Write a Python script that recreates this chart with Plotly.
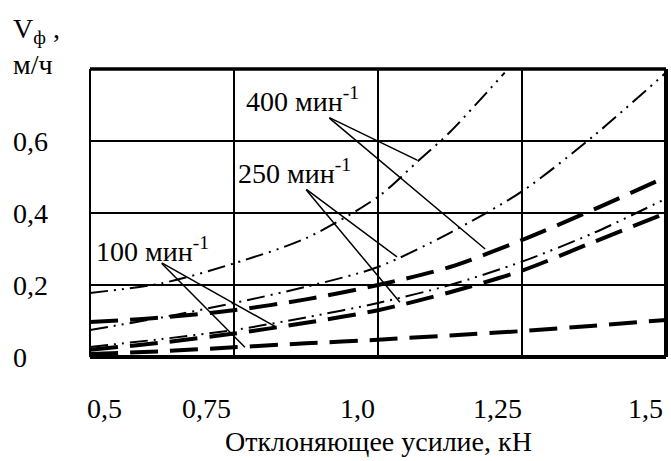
import plotly.graph_objects as go

# ---- data ----
force = [0.5, 0.625, 0.75, 0.875, 1.0, 1.125, 1.25, 1.375, 1.5]

# 400 min^-1
v400_a_x = [0.5, 0.625, 0.75, 0.875, 1.0, 1.07, 1.125, 1.22]
v400_a = [0.178, 0.205, 0.26, 0.33, 0.445, 0.545, 0.625, 0.79]
v400_b = [0.097, 0.11, 0.13, 0.16, 0.20, 0.25, 0.325, 0.41, 0.50]
# 250 min^-1
v250_a = [0.075, 0.11, 0.15, 0.195, 0.25, 0.345, 0.46, 0.615, 0.79]
v250_b = [0.028, 0.05, 0.075, 0.11, 0.15, 0.20, 0.265, 0.345, 0.44]
# 100 min^-1
v100_a = [0.02, 0.04, 0.065, 0.095, 0.13, 0.18, 0.24, 0.32, 0.40]
v100_b = [0.008, 0.016, 0.027, 0.038, 0.048, 0.06, 0.072, 0.087, 0.103]

x_tick_labels = ["0,5", "0,75", "1,0", "1,25", "1,5"]
y_tick_labels = ["0", "0,2", "0,4", "0,6"]
y_tick_vals = [0, 0.2, 0.4, 0.6]
series_labels = ["400 мин<sup>-1</sup>", "250 мин<sup>-1</sup>", "100 мин<sup>-1</sup>"]

FONT = "Liberation Serif"
DDOT = "18px,6px,2px,6px,2px,6px"
LDASH = "28px,12px"

fig = go.Figure()

def add(x, y, dash, w):
    fig.add_trace(go.Scatter(x=x, y=y, mode="lines", line=dict(color="black", width=w, dash=dash, shape="spline", smoothing=0.8),
                             showlegend=False, hoverinfo="skip"))

add(v400_a_x, v400_a, DDOT, 2)
add(force, v400_b, LDASH, 4)
add(force, v250_a, DDOT, 2)
add(force, v250_b, DDOT, 2)
add(force, v100_a, LDASH, 4)
add(force, v100_b, LDASH, 4)

# leader lines: label anchor -> points on curves
leaders = [
    ((0.913, 0.667), [(1.068, 0.547), (1.186, 0.300)]),
    ((0.873, 0.469), [(1.033, 0.278), (1.038, 0.152)]),
    ((0.622, 0.264), [(0.821, 0.085), (0.769, 0.027)]),
]
for (sx, sy), targets in leaders:
    for tx, ty in targets:
        fig.add_annotation(x=tx, y=ty, ax=sx, ay=sy, xref="x", yref="y", axref="x", ayref="y",
                           text="", showarrow=True, arrowhead=0, arrowwidth=1.5, arrowcolor="black")

label_pos = [(0.769, 0.715), (0.755, 0.515), (0.509, 0.300)]
for (lx, ly), txt in zip(label_pos, series_labels):
    fig.add_annotation(x=lx, y=ly, xref="x", yref="y", text=txt, showarrow=False,
                       xanchor="left", yanchor="middle", borderpad=0,
                       font=dict(family=FONT, size=28, color="black"))

# tick labels
x_label_paper = [0.025, 0.203, 0.464, 0.708, 0.964]
for px, t in zip(x_label_paper, x_tick_labels):
    fig.add_annotation(x=px, y=-0.18, xref="paper", yref="paper", text=t, showarrow=False,
                       xanchor="center", yanchor="middle", font=dict(family=FONT, size=28, color="black"))
for v, t in zip(y_tick_vals, y_tick_labels):
    fig.add_annotation(x=-0.137, y=v, xref="paper", yref="y", text=t, showarrow=False,
                       xanchor="left", yanchor="middle", font=dict(family=FONT, size=28, color="black"))

fig.add_annotation(x=0.5, y=-0.295, xref="paper", yref="paper", text="Отклоняющее усилие, кН", showarrow=False,
                   xanchor="center", yanchor="middle", font=dict(family=FONT, size=28, color="black"))
fig.add_annotation(x=-0.137, y=1.20, xref="paper", yref="paper", text="V<sub>ф</sub> ,<br>м/ч", showarrow=False,
                   xanchor="left", yanchor="top", align="left", font=dict(family=FONT, size=28, color="black"))

# frame
fig.add_shape(type="line", xref="paper", yref="paper", x0=0, x1=0, y0=0, y1=1, line=dict(color="black", width=2))
fig.add_shape(type="line", xref="paper", yref="paper", x0=0, x1=1, y0=1, y1=1, line=dict(color="black", width=3.5))
fig.add_shape(type="line", xref="paper", yref="paper", x0=1, x1=1, y0=0, y1=1, line=dict(color="black", width=4))
fig.add_shape(type="line", xref="paper", yref="paper", x0=0, x1=1, y0=0, y1=0, line=dict(color="black", width=4))

fig.update_xaxes(range=[0.5, 1.5], tickvals=[0.75, 1.0, 1.25], showticklabels=False, ticks="",
                 showgrid=True, gridcolor="black", gridwidth=1.5, zeroline=False, showline=False)
fig.update_yaxes(range=[0, 0.8], tickvals=[0.2, 0.4, 0.6], showticklabels=False, ticks="",
                 showgrid=True, gridcolor="black", gridwidth=1.5, zeroline=False, showline=False)

fig.update_layout(width=671, height=461, margin=dict(l=90, r=5, t=69, b=104),
                  paper_bgcolor="white", plot_bgcolor="white", font=dict(family=FONT))

fig.write_html("out.html", config={"displayModeBar": False},
               post_script="document.body.style.margin='0';document.body.style.overflow='hidden';")
